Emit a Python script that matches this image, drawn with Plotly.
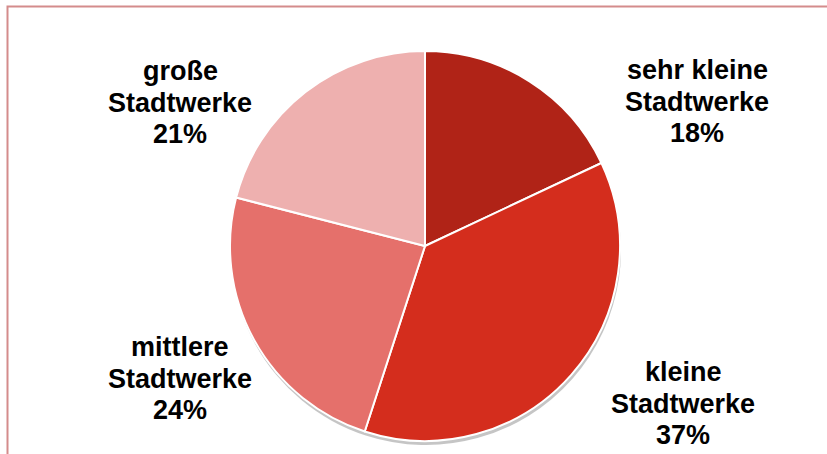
import plotly.graph_objects as go

categories = ["sehr kleine<br>Stadtwerke", "kleine<br>Stadtwerke", "mittlere<br>Stadtwerke", "große<br>Stadtwerke"]
label_lines = [["sehr kleine", "Stadtwerke"], ["kleine", "Stadtwerke"], ["mittlere", "Stadtwerke"], ["große", "Stadtwerke"]]
shares = [18, 37, 24, 21]
colors = ["#B02317", "#D42D1D", "#E5706B", "#EEB0AF"]

W, H = 827, 454
fig = go.Figure()
# soft drop shadow (same pie, grey, shifted slightly down)
fig.add_trace(go.Pie(
    labels=categories, values=shares, sort=False, direction="clockwise", rotation=0,
    marker=dict(colors=["rgba(90,90,90,0.35)"] * len(shares), line=dict(width=0)),
    textinfo="none", hoverinfo="skip", showlegend=False,
    domain=dict(x=[231 / W, 621 / W], y=[1 - 445 / H, 1 - 55 / H]),
))
fig.add_trace(go.Pie(
    labels=categories, values=shares, sort=False, direction="clockwise", rotation=0,
    marker=dict(colors=colors, line=dict(color="white", width=2)),
    textinfo="none", hoverinfo="label+percent", showlegend=False,
    domain=dict(x=[230 / W, 620 / W], y=[1 - 441 / H, 1 - 51 / H]),
))

# label block positions (centre x, baseline of first line) in pixels
label_pos = [(697, 78), (683, 380), (180, 355), (180, 79)]
line_gap = 31.5
fs = 27
for (cx, base), lines, v in zip(label_pos, label_lines, shares):
    texts = lines + [f"{v}%"]
    for i, t in enumerate(texts):
        cy = base + i * line_gap - 8
        fig.add_annotation(
            x=cx / W, y=1 - cy / H, xref="paper", yref="paper", text=f"<b>{t}</b>",
            showarrow=False, xanchor="center", yanchor="middle",
            font=dict(family="Liberation Sans, Arial, sans-serif", size=fs, color="black"),
        )

fig.add_shape(type="rect", xref="paper", yref="paper",
              x0=7.5 / W, x1=1.1, y0=-0.1, y1=1 - 6.5 / H,
              line=dict(color="#D48C8C", width=2), fillcolor="rgba(0,0,0,0)")

fig.update_layout(width=W, height=H, margin=dict(l=0, r=0, t=0, b=0),
                  paper_bgcolor="white", plot_bgcolor="white")
fig.write_html("out.html", config={"displayModeBar": False},
               post_script="document.body.style.margin='0';document.body.style.overflow='hidden';")
